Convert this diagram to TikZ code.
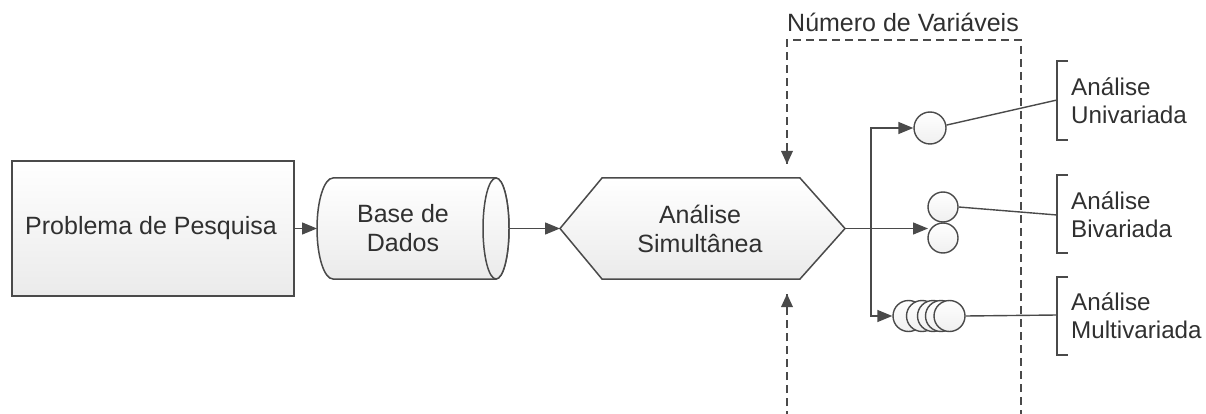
\documentclass[tikz,border=0pt]{standalone}
\usepackage{fontspec}
\setmainfont{Liberation Sans}
\usetikzlibrary{arrows.meta}
\definecolor{ln}{HTML}{4A4A4A}
\definecolor{tx}{HTML}{303030}
\tikzset{
  shp/.style={draw=ln, line width=1.5pt, top color=white, bottom color=gray!16},
  circ/.style={draw=ln, line width=1.4pt, top color=white, bottom color=gray!12, circle, inner sep=0pt},
  conn/.style={draw=ln, line width=1.4pt},
  arr/.style={conn, -{Triangle[length=15pt,width=12pt]}},
  dsh/.style={draw=ln, line width=1.5pt, dash pattern=on 8pt off 5pt},
  lbl/.style={text=tx, font=\fontsize{25}{29}\selectfont, align=center, inner sep=0pt},
  lbll/.style={text=tx, font=\fontsize{24.2}{28}\selectfont, inner sep=0pt, align=left, anchor=west},
  brk/.style={draw=ln, line width=1.4pt}
}
\begin{document}
\begin{tikzpicture}[x=1pt,y=-1pt]
\useasboundingbox (0,0) rectangle (1206,414);
% Problema de Pesquisa
\path[shp] (12,161) rectangle (294,296);
\node[lbl] (prob) at (151,228.5) {Problema de Pesquisa};
\coordinate (probR) at (294,228.5);
% Base de Dados cylinder
\path[shp] (333,178) -- (496,178) arc[start angle=-90,end angle=90,x radius=13,y radius=50.5]
  -- (333,279) arc[start angle=90,end angle=270,x radius=16,y radius=50.5] -- cycle;
\path[shp] (496,228.5) ellipse[x radius=13,y radius=50.5];
\node[lbl] (base) at (403,228.5) {Base de\\Dados};
\coordinate (cylL) at (317,228.5);
\coordinate (cylR) at (509,228.5);
% Hexagon
\path[shp] (560,228.5) -- (602,178) -- (800,178) -- (845,228.5) -- (800,279) -- (602,279) -- cycle;
\node[lbl] (sim) at (700,228.5) {Análise\\Simultânea};
\coordinate (hexL) at (560,228.5);
\coordinate (hexR) at (845,228.5);
% connectors
\draw[arr] (probR) -- (cylL);
\draw[arr] (cylR) -- (hexL);
% dashed frame
\coordinate (dTL) at (787,40);
\coordinate (dTR) at (1021,40);
\coordinate (dBR) at (1021,414.5);
\coordinate (dBL) at (787,414.5);
\coordinate (dTip1) at (787,164);
\coordinate (dTip2) at (787,294);
\draw[dsh] (dTip1) -- (dTL) -- (dTR) -- (dBR) -- (dBL) -- (dTip2);
\fill[ln] (dTip1) -- ++(-6,-13) -- ++(12,0) -- cycle;
\fill[ln] (dTip2) -- ++(-6,13) -- ++(12,0) -- cycle;
\node[lbl] (nv) at (903,22) {Número de Variáveis};
% circles
\node[circ, minimum size=32pt] (c1) at (930,128) {};
\node[circ, minimum size=30pt] (b1) at (943,207) {};
\node[circ, minimum size=30pt] (b2) at (943,238) {};
\node[circ, minimum size=31pt] (m1) at (908.5,316) {};
\node[circ, minimum size=31pt] (m2) at (922,316) {};
\node[circ, minimum size=31pt] (m3) at (933,316) {};
\node[circ, minimum size=31pt] (m4) at (941,316) {};
\node[circ, minimum size=31pt] (m5) at (949.5,316) {};
% branching
\coordinate (br) at (871,228.5);
\draw[conn] (hexR) -- (br);
\draw[arr] (br) -- (928,228.5);
\draw[arr] (br) |- (c1.west);
\draw[arr] (br) |- (m1.west);
% brackets
\draw[brk] (1068,61) -- (1057,61) -- (1057,140) -- (1068,140);
\draw[brk] (1068,175) -- (1057,175) -- (1057,253) -- (1068,253);
\draw[brk] (1068,277) -- (1057,277) -- (1057,355) -- (1068,355);
\coordinate (k1) at (1057,100);
\coordinate (k2) at (1057,215);
\coordinate (k3) at (1057,315);
\draw[conn] (c1.10) -- (k1);
\draw[conn] (b1.east) -- (k2);
\draw[conn] (m5.east) -- (k3);
\node[lbll] (t1) at (1071,101) {Análise\\Univariada};
\node[lbll] (t2) at (1071,215) {Análise\\Bivariada};
\node[lbll] (t3) at (1071,316) {Análise\\Multivariada};
\end{tikzpicture}
\end{document}
